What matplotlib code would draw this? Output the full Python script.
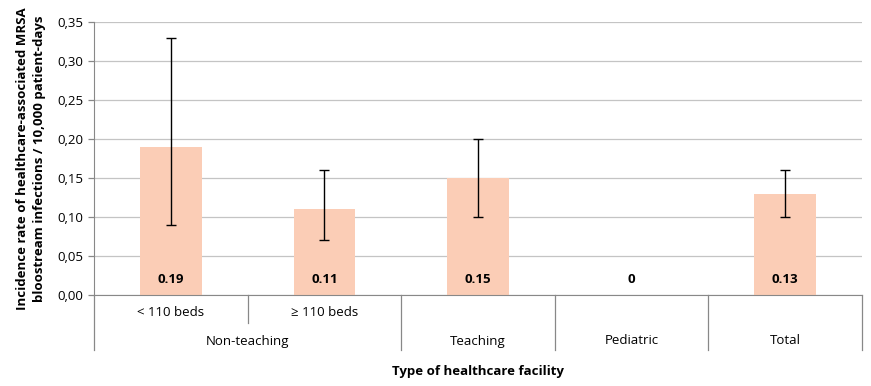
import numpy as np
import matplotlib.pyplot as plt
import matplotlib.transforms as mtransforms

plt.rcParams['font.family'] = ['Open Sans', 'DejaVu Sans']

categories = ['< 110 beds', '\u2265 110 beds', 'Teaching', 'Pediatric', 'Total']
rates = [0.19, 0.11, 0.15, 0.0, 0.13]
ci_low = [0.09, 0.07, 0.10, np.nan, 0.10]
ci_high = [0.33, 0.16, 0.20, np.nan, 0.16]
value_labels = ['0.19', '0.11', '0.15', '0', '0.13']
yticks = [0.0, 0.05, 0.10, 0.15, 0.20, 0.25, 0.30, 0.35]

fig = plt.figure(figsize=(8.71, 3.86), dpi=100)
ax = fig.add_axes([94/871, 1-295/386, (862-94)/871, (295-22)/386])

x = np.arange(len(categories))
rates_a = np.array(rates)
err = np.array([rates_a - np.array(ci_low), np.array(ci_high) - rates_a])

ax.bar(x, rates, width=0.4, color='#FBCDB6', zorder=2)
ax.errorbar(x, rates, yerr=err, fmt='none', ecolor='black', elinewidth=1,
            capsize=3.5, capthick=1, zorder=3)

for xi, lab in zip(x, value_labels):
    ax.text(xi, 0.0205, lab, ha='center', va='center', fontsize=9.5,
            fontweight='bold', zorder=4)

ax.set_xlim(-0.5, len(categories) - 0.5)
ax.set_ylim(0, 0.35)
ax.set_yticks(yticks)
ax.set_yticklabels([f'{v:.2f}'.replace('.', ',') for v in yticks], fontsize=9.5)
ax.yaxis.grid(True, color='#C4C4C4', linewidth=0.9, zorder=0)
ax.set_axisbelow(True)
ax.set_xticks([])
ax.tick_params(axis='y', length=4, color='#888888', width=0.9)

for s in ['top', 'right']:
    ax.spines[s].set_visible(False)
ax.spines['left'].set_color('#888888')
ax.spines['bottom'].set_color('#888888')

trans = mtransforms.blended_transform_factory(ax.transData, ax.transAxes)
low_y = -55/273
mid_y = -28/273
# vertical separators
for b in np.arange(-0.5, len(categories), 1.0):
    ytop = mid_y if b == 0.5 else low_y
    ax.plot([b, b], [0, ytop], transform=trans, color='#888888', lw=0.9,
            clip_on=False)

# first row labels (sub-categories)
for xi, lab in zip(x, categories):
    if xi <= 1:
        ax.text(xi, -18/273, lab, transform=trans, ha='center', va='center',
                fontsize=9.5)
    else:
        ax.text(xi, -46/273, lab, transform=trans, ha='center', va='center',
                fontsize=9.5)
ax.text(0.5, -46/273, 'Non-teaching', transform=trans, ha='center',
        va='center', fontsize=9.5)

ax.text(2.0, -76/273, 'Type of healthcare facility', transform=trans,
        ha='center', va='center', fontsize=9.5, fontweight='bold')

ax.set_ylabel('Incidence rate of healthcare-associated MRSA\n'
              'bloostream infections / 10,000 patient-days',
              fontsize=9.5, fontweight='bold', labelpad=8, linespacing=1.4)

fig.savefig('out.png', dpi=100)
